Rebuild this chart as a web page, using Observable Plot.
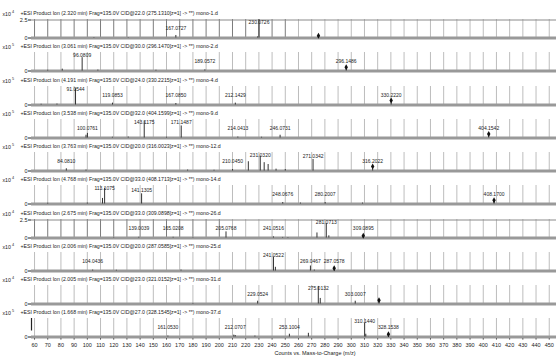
<!DOCTYPE html>
<html><head><meta charset="utf-8">
<script src="https://cdn.jsdelivr.net/npm/d3@7"></script>
<script src="https://cdn.jsdelivr.net/npm/@observablehq/plot@0.6"></script>
<style>
body{margin:0;background:#fff;}
#chart{position:relative;width:557px;height:357px;overflow:hidden;font-family:"Liberation Sans",Arial,sans-serif;}
#chart svg{position:absolute;left:0;overflow:visible;}
</style></head><body><div id="chart"></div>
<script>
// ---------- data ----------
const panelTitles = [
  "+ESI Product Ion (2.320 min) Frag=135.0V CID@22.0 (275.1310[z=1] -> **) mono-1.d",
  "+ESI Product Ion (3.061 min) Frag=135.0V CID@30.0 (296.1470[z=1] -> **) mono-2.d",
  "+ESI Product Ion (4.191 min) Frag=135.0V CID@24.0 (330.2215[z=1] -> **) mono-4.d",
  "+ESI Product Ion (3.538 min) Frag=135.0V CID@32.0 (404.1599[z=1] -> **) mono-9.d",
  "+ESI Product Ion (3.763 min) Frag=135.0V CID@20.0 (316.0023[z=1] -> **) mono-12.d",
  "+ESI Product Ion (4.768 min) Frag=135.0V CID@33.0 (408.1713[z=1] -> **) mono-14.d",
  "+ESI Product Ion (2.675 min) Frag=135.0V CID@33.0 (309.0898[z=1] -> **) mono-26.d",
  "+ESI Product Ion (2.006 min) Frag=135.0V CID@20.0 (287.0585[z=1] -> **) mono-25.d",
  "+ESI Product Ion (2.005 min) Frag=135.0V CID@23.0 (321.0152[z=1] -> **) mono-31.d",
  "+ESI Product Ion (1.668 min) Frag=135.0V CID@27.0 (328.1545[z=1] -> **) mono-37.d"
];
const panelExponents = [4, 5, 5, 5, 5, 4, 4, 4, 4, 5];
const panelYTop = [2.57, 1, 1, 1, 1, 1, 2.57, 1, 1, 1];
const panelYTicks = [[0, 2.5], [0], [0], [0], [0], [0], [0, 2.5], [0], [0], [0]];
const panelDarkGridUntil = [250, 0, 0, 0, 0, 0, 200, 0, 0, 0];

const precursorMz = [275.1310, 296.1486, 330.2220, 404.1542, 316.2022, 408.1700, 309.0895, 287.0578, 321.0152, 328.1538];
const precursorInt = [0.3, 0.2, 0.25, 0.22, 0.25, 0.2, 0.3, 0.15, 0.2, 0.15];
const precursorLabel = ["", "296.1486", "330.2220", "404.1542", "316.2022", "408.1700", "309.0895", "287.0578", "", "328.1538"];

// [m/z, intensity (x10^n), label]
const peaksMono1 = [[230.0726, 2.55, "230.0726"], [167.0727, 0.35, "167.0727"], [105, 0.06, ""], [131, 0.05, ""], [229, 0.15, ""]];
const peaksMono2 = [[96.0809, 0.72, "96.0809"], [189.0572, 0.06, "189.0572"], [81, 0.1, ""], [70, 0.04, ""], [108, 0.05, ""], [152, 0.04, ""]];
const peaksMono4 = [[91.0544, 0.88, "91.0544"], [119.0853, 0.1, "119.0853"], [167.0850, 0.08, "167.0850"], [212.1429, 0.1, "212.1429"], [77, 0.05, ""], [65, 0.04, ""]];
const peaksMono9 = [[100.0761, 0.25, "100.0761"], [99, 0.15, ""], [143.1175, 0.92, "143.1175"], [171.1487, 0.65, "171.1487"], [214.0413, 0.05, "214.0413"], [246.0731, 0.15, "246.0731"], [119, 0.04, ""], [131, 0.05, ""], [160, 0.04, ""], [232, 0.04, ""]];
const peaksMono12 = [[84.0810, 0.12, "84.0810"], [210.0450, 0.08, "210.0450"], [222, 0.5, ""], [231.0320, 0.8, "231.0320"], [234, 0.45, ""], [237, 0.35, ""], [243, 0.1, ""], [250, 0.08, ""], [271.0342, 0.62, "271.0342"], [99, 0.05, ""], [176, 0.05, ""], [196, 0.04, ""]];
const peaksMono14 = [[113.1075, 0.85, "113.1075"], [111.5, 0.3, ""], [141.1305, 0.55, "141.1305"], [248.0676, 0.08, "248.0676"], [261.5, 0.05, ""], [280.2007, 0.08, "280.2007"], [308.5, 0.05, ""], [70, 0.04, ""], [100, 0.05, ""]];
const peaksMono26 = [[139.0039, 0.1, "139.0039"], [165.0208, 0.1, "165.0208"], [205.0768, 0.85, "205.0768"], [241.0516, 0.15, "241.0516"], [248, 0.08, ""], [252, 0.06, ""], [274, 0.7, ""], [281.0713, 2.0, "281.0713"], [283, 0.3, ""], [120, 0.05, ""], [180, 0.05, ""]];
const peaksMono25 = [[104.0436, 0.05, "104.0436"], [122, 0.04, ""], [171, 0.05, ""], [241.0522, 0.75, "241.0522"], [242.5, 0.2, ""], [269.0467, 0.27, "269.0467"], [272, 0.05, ""]];
const peaksMono31 = [[229.0524, 0.15, "229.0524"], [275.0132, 0.95, "275.0132"], [276.5, 0.3, ""], [303.0007, 0.15, "303.0007"], [180, 0.03, ""]];
const peaksMono37 = [[161.0530, 0.05, "161.0530"], [211, 0.1, ""], [212.0707, 0.08, "212.0707"], [227, 0.05, ""], [253.1004, 0.15, "253.1004"], [267.5, 0.2, ""], [310.1440, 0.75, "310.1440"], [311, 0.15, ""]];
const panelPeaks = [peaksMono1, peaksMono2, peaksMono4, peaksMono9, peaksMono12, peaksMono14, peaksMono26, peaksMono25, peaksMono31, peaksMono37];

const xTicks = [60,70,80,90,100,110,120,130,140,150,160,170,180,190,200,210,220,230,240,250,260,270,280,290,300,310,320,330,340,350,360,370,380,390,400,410,420,430,440,450];
const xDomain = [57.7, 455.5];
const xAxisTitle = "Counts vs. Mass-to-Charge (m/z)";

// ---------- drawing ----------
const chart = document.getElementById("chart");
const n = panelTitles.length;

for (let k = 0; k < n; k++) {
  const last = k === n - 1;
  const yTop = panelYTop[k];
  const titleY = Math.round(13 + 33.25 * k);
  const top = titleY - 8;
  const peaks = panelPeaks[k].map(([mz, intensity, label]) => ({mz, intensity, label}));
  const prec = {mz: precursorMz[k], intensity: precursorInt[k], label: precursorLabel[k]};
  const labelled = peaks.filter(d => d.label).concat(prec.label ? [prec] : [])
    .map(d => ({...d, ly: Math.max(0.35 * yTop, Math.min(d.intensity, 0.65 * yTop))}));
  const dark = panelDarkGridUntil[k];

  const marks = [
    Plot.ruleX(xTicks, {x: d => d, y1: 0, y2: yTop, stroke: d => (d <= dark ? "#7c7c7c" : "#bdbdbd"), strokeWidth: 1}),
  ];
  if (panelYTicks[k].includes(2.5)) marks.push(Plot.ruleY([2.5], {stroke: "#8a8a8a", strokeWidth: 1}));
  marks.push(
    Plot.ruleY([0], {stroke: "#999", strokeWidth: 3}),
    Plot.ruleX(peaks.concat([prec]), {x: "mz", y1: 0, y2: "intensity", stroke: "#333", strokeWidth: 1}),
    Plot.dot([prec], {x: "mz", y: "intensity", symbol: "diamond", r: 1.8, fill: "#111", stroke: null}),
    Plot.text(labelled, {x: "mz", y: "ly", text: "label", dy: -3.5, fontSize: 5, fill: "#222", textAnchor: "middle"}),
    Plot.text([panelTitles[k]], {frameAnchor: "top-left", text: d => d, dx: -11, dy: -6, fontSize: 5.2, fill: "#222", textAnchor: "start", lineAnchor: "middle"}),
    Plot.text(["x10"], {frameAnchor: "top-left", text: d => d, dx: -29, dy: -5.5, fontSize: 5.2, fill: "#222", textAnchor: "start", lineAnchor: "middle"}),
    Plot.text([String(panelExponents[k])], {frameAnchor: "top-left", text: d => d, dx: -19.5, dy: -7.5, fontSize: 3.8, fill: "#222", textAnchor: "start", lineAnchor: "middle"})
  );
  if (last) {
    marks.push(Plot.ruleX([xDomain[0]], {y1: 0, y2: yTop, insetTop: -6, stroke: "#222", strokeWidth: 1.2}));
    marks.push(Plot.text([xAxisTitle], {frameAnchor: "bottom-left", text: d => d, dx: 243, dy: 16.5, fontSize: 5.5, fill: "#222", textAnchor: "start", lineAnchor: "middle"}));
  }

  const svg = Plot.plot({
    width: 557,
    height: last ? 54 : 34,
    marginTop: 14,
    marginBottom: last ? 21.5 : 1.5,
    marginLeft: 31,
    marginRight: 1,
    style: {background: "transparent", overflow: "visible", fontFamily: "'Liberation Sans', Arial, sans-serif", fontSize: "5.5px", color: "#222"},
    x: {domain: xDomain, ticks: xTicks, axis: last ? "bottom" : null, tickSize: 3, tickPadding: 3, label: null, tickFormat: d => String(d)},
    y: {domain: [0, yTop], ticks: panelYTicks[k], tickSize: 3, tickPadding: 1, label: null, tickFormat: d => String(d)},
    marks
  });
  svg.style.top = top + "px";
  chart.appendChild(svg);
}
</script>
</body></html>
